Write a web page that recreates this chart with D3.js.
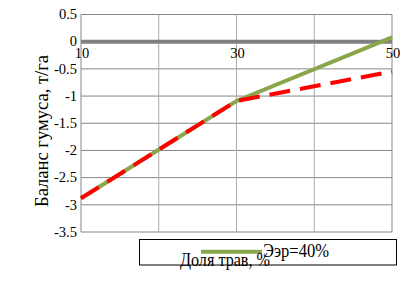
<!DOCTYPE html>
<html>
<head>
<meta charset="utf-8">
<script src="https://cdn.jsdelivr.net/npm/d3@7"></script>
<style>
  body { margin: 0; background: #fff; }
  svg text { font-family: "Liberation Serif", "DejaVu Serif", serif; fill: #000; }
</style>
</head>
<body>
<svg width="408" height="289"></svg>
<script>
const shares = [10, 30, 50];
const eer40 = [-2.88, -1.09, 0.08];
const eerLow = [-2.88, -1.09, -0.55];
const yTickValues = [0.5, 0, -0.5, -1, -1.5, -2, -2.5, -3, -3.5];
const xTickLabels = [10, 30, 50];
const xGridValues = [10, 20, 30, 40, 50];

const svg = d3.select("svg");

const x = d3.scaleLinear().domain([10, 50]).range([81, 392]);
const y = d3.scaleLinear().domain([-3.5, 0.5]).range([232, 14.5]);

// horizontal grid
svg.append("g")
    .selectAll("line")
    .data(yTickValues)
    .join("line")
    .attr("x1", x(10)).attr("x2", x(50))
    .attr("y1", d => y(d)).attr("y2", d => y(d))
    .attr("stroke", "#878787")
    .attr("stroke-width", 1);

// vertical grid
svg.append("g")
    .selectAll("line")
    .data(xGridValues)
    .join("line")
    .attr("x1", d => x(d)).attr("x2", d => x(d))
    .attr("y1", y(0.5)).attr("y2", y(-3.5))
    .attr("stroke", d => (d === 10 || d === 50) ? "#878787" : "#ababab")
    .attr("stroke-width", 1);

// zero line
svg.append("line")
    .attr("x1", x(10)).attr("x2", x(50))
    .attr("y1", y(0)).attr("y2", y(0))
    .attr("stroke", "#808080")
    .attr("stroke-width", 4);

// y tick labels
svg.append("g")
    .selectAll("text")
    .data(yTickValues)
    .join("text")
    .attr("x", 77)
    .attr("y", d => y(d))
    .attr("dy", "0.33em")
    .attr("text-anchor", "end")
    .style("font-size", "14.5px")
    .text(d => d);

// x tick labels (just under zero line)
svg.append("g")
    .selectAll("text")
    .data(xTickLabels)
    .join("text")
    .attr("x", d => x(d) + 1)
    .attr("y", 58)
    .attr("text-anchor", "middle")
    .style("font-size", "14.5px")
    .text(d => d);

const line = d3.line()
    .x((d, i) => x(shares[i]))
    .y(d => y(d));

svg.append("path")
    .datum(eer40)
    .attr("fill", "none")
    .attr("stroke", "#8aa64b")
    .attr("stroke-width", 4)
    .attr("d", line);

svg.append("path")
    .datum(eerLow)
    .attr("fill", "none")
    .attr("stroke", "#ff0000")
    .attr("stroke-width", 4)
    .attr("stroke-dasharray", "21 10")
    .attr("d", line);

// y axis title
svg.append("text")
    .attr("transform", "translate(48,131) rotate(-90)")
    .attr("text-anchor", "middle")
    .attr("textLength", 152)
    .attr("lengthAdjust", "spacingAndGlyphs")
    .style("font-size", "19px")
    .text("Баланс гумуса, т/га");

// legend
const legend = svg.append("g");
legend.append("rect")
    .attr("x", 139.5).attr("y", 239.5)
    .attr("width", 257).attr("height", 25.5)
    .attr("fill", "#fff")
    .attr("stroke", "#000")
    .attr("stroke-width", 1);
legend.append("line")
    .attr("x1", 201).attr("x2", 262)
    .attr("y1", 251.7).attr("y2", 251.7)
    .attr("stroke", "#8aa64b")
    .attr("stroke-width", 4);
legend.append("text")
    .attr("x", 263)
    .attr("y", 257)
    .attr("textLength", 66)
    .attr("lengthAdjust", "spacingAndGlyphs")
    .style("font-size", "19px")
    .text("Ээр=40%");

// x axis title
svg.append("text")
    .attr("x", 180)
    .attr("y", 265.5)
    .attr("textLength", 90)
    .attr("lengthAdjust", "spacingAndGlyphs")
    .style("font-size", "19px")
    .text("Доля трав, %");
</script>
</body>
</html>
